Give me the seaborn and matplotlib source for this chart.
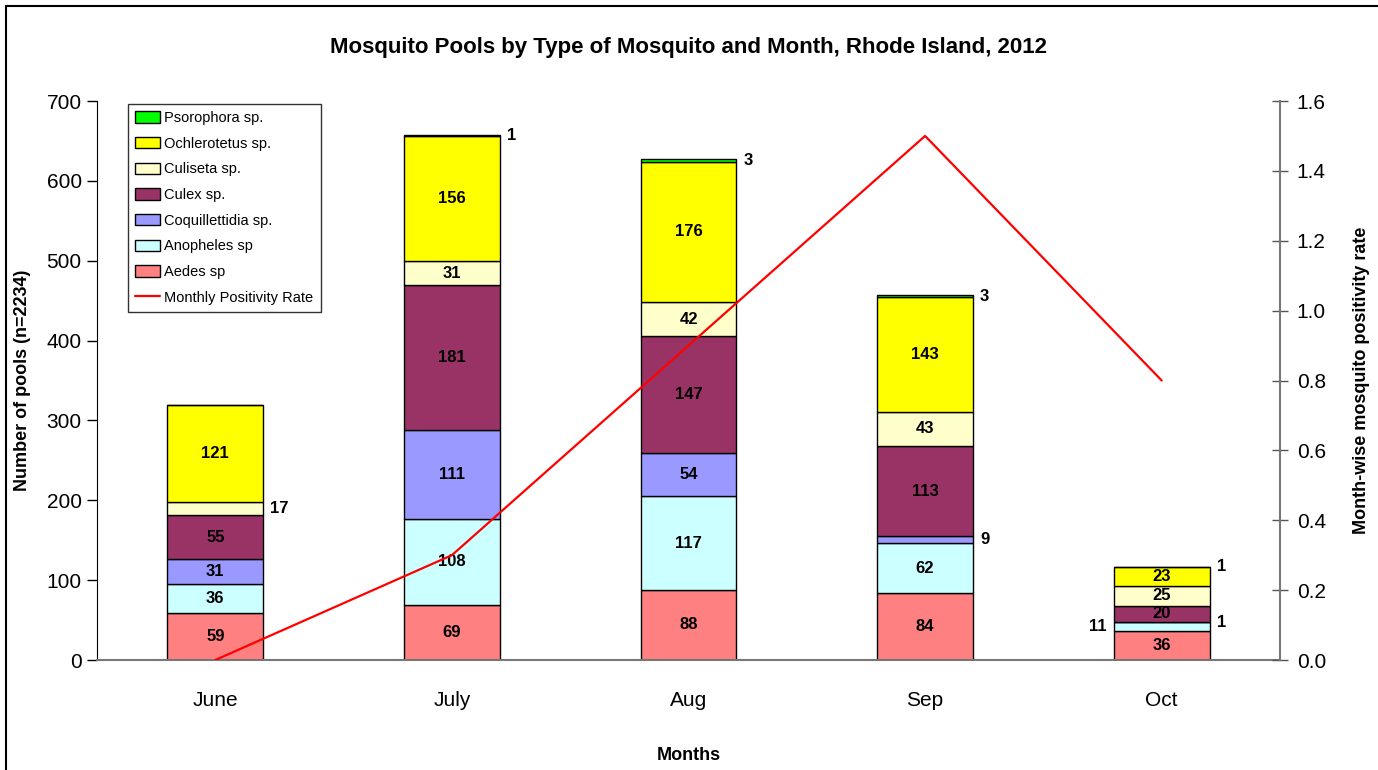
import matplotlib
matplotlib.use("Agg")
import matplotlib.pyplot as plt
import numpy as np
import pandas as pd
import seaborn as sns
from matplotlib.patches import Rectangle, Patch
from matplotlib.lines import Line2D

# dati
months = ["June", "July", "Aug", "Sep", "Oct"]
species = ["Aedes sp", "Anopheles sp", "Coquillettidia sp.", "Culex sp.",
           "Culiseta sp.", "Ochlerotetus sp.", "Psorophora sp."]
aedes = [59, 69, 88, 84, 36]
anopheles = [36, 108, 117, 62, 11]
coquillettidia = [31, 111, 54, 9, 1]
culex = [55, 181, 147, 113, 20]
culiseta = [17, 31, 42, 43, 25]
ochlerotetus = [121, 156, 176, 143, 23]
psorophora = [0, 1, 3, 3, 1]
positivity = [0.0, 0.3, 0.9, 1.5, 0.8]

colors = ["#FF8080", "#CCFFFF", "#9999FF", "#993366", "#FFFFCC", "#FFFF00", "#00FF00"]
palette = dict(zip(species, colors))

series = [aedes, anopheles, coquillettidia, culex, culiseta, ochlerotetus, psorophora]
rows = []
for sp, vals in zip(species, series):
    for i, v in enumerate(vals):
        rows.append({"month": i, "species": sp, "pools": v})
df = pd.DataFrame(rows)

sns.set_style("white")
plt.rcParams["font.family"] = ["Liberation Sans Narrow", "Liberation Sans", "DejaVu Sans"]
for k in ["text.color", "axes.labelcolor", "xtick.color", "ytick.color"]:
    plt.rcParams[k] = "black"

fig = plt.figure(figsize=(13.78, 7.70), dpi=100)
ax = fig.add_axes([97 / 1378, 110 / 770, (1280 - 97) / 1378, (660 - 101) / 770])

# seaborn impila dall'ultimo colore, quindi ordine invertito
sns.histplot(data=df, x="month", weights="pools", hue="species", hue_order=species[::-1],
             palette=palette, multiple="stack", discrete=True, shrink=0.405,
             edgecolor="black", linewidth=1, alpha=1, legend=False, ax=ax)

ax.set_xlim(-0.5, 4.5)
ax.set_ylim(0, 700)
ax.set_yticks(range(0, 701, 100))
ax.set_xticks(range(5))
ax.set_xticklabels(months)
ax.set_xticks(np.arange(-0.5, 5, 1), minor=True)
ax.tick_params(axis="x", which="major", length=0, pad=22, labelsize=15)
ax.tick_params(axis="x", which="minor", length=8, direction="out", color="#555555", width=1)
ax.tick_params(axis="y", length=7, direction="out", width=1, labelsize=15, pad=4, left=True)
for s in ["top", "right"]:
    ax.spines[s].set_visible(False)
ax.spines["left"].set_color("black")
ax.spines["bottom"].set_color("#777777")
ax.spines["bottom"].set_linewidth(1.5)
ax.set_ylabel("Number of pools (n=2234)", fontsize=13, fontweight="bold")
ax.set_xlabel("Months", fontsize=13, fontweight="bold")
ax.yaxis.set_label_coords(-0.056, 0.5)
ax.xaxis.set_label_coords(0.5, -0.155)

# etichette dei segmenti
half = 0.405 / 2
outside = {(0, 4): "r", (1, 6): "r", (2, 6): "r", (3, 6): "r", (3, 2): "r",
           (4, 6): "r", (4, 2): "r", (4, 1): "l"}
for m in range(5):
    base = 0
    for k, vals in enumerate(series):
        v = vals[m]
        if v == 0:
            continue
        yc = base + v / 2
        side = outside.get((m, k))
        if side == "r":
            ax.text(m + half + 0.03, yc, str(v), ha="left", va="center",
                    fontsize=12, fontweight="bold")
        elif side == "l":
            ax.text(m - half - 0.03, yc, str(v), ha="right", va="center",
                    fontsize=12, fontweight="bold")
        else:
            ax.text(m, yc, str(v), ha="center", va="center",
                    fontsize=12, fontweight="bold")
        base += v

ax2 = ax.twinx()
sns.lineplot(x=list(range(5)), y=positivity, color="red", linewidth=1.6, ax=ax2)
ax2.set_ylim(0, 1.6)
ax2.set_yticks(np.arange(0, 1.61, 0.2))
ax2.set_yticklabels([f"{t:.1f}" for t in np.arange(0, 1.61, 0.2)])
ax2.tick_params(axis="y", direction="inout", length=12, width=1, labelsize=15, pad=6,
                color="#555555")
for s in ["top", "left", "bottom"]:
    ax2.spines[s].set_visible(False)
ax2.spines["right"].set_color("#777777")
ax2.spines["right"].set_linewidth(1.5)
ax2.set_ylabel("Month-wise mosquito positivity rate", fontsize=13, fontweight="bold")
ax2.yaxis.set_label_coords(1.062, 0.5)

handles = [Patch(facecolor=c, edgecolor="black", label=s)
           for s, c in zip(species[::-1], colors[::-1])]
handles.append(Line2D([0], [0], color="red", lw=1.6, label="Monthly Positivity Rate"))
leg = ax2.legend(handles=handles, loc="upper left", bbox_to_anchor=(0.026, 0.995),
                 fontsize=10.5, frameon=True, fancybox=False, edgecolor="black",
                 handlelength=1.7, handleheight=0.8, labelspacing=0.8,
                 borderpad=0.5, handletextpad=0.3, borderaxespad=0)
leg.get_frame().set_linewidth(1)

fig.text(688 / 1378, 1 - 47 / 770, "Mosquito Pools by Type of Mosquito and Month, Rhode Island, 2012",
         ha="center", va="center", fontsize=16, fontweight="bold")

fig.patches.append(Rectangle((6 / 1378, -0.1), 1.2, 1.1 - 6 / 770, transform=fig.transFigure,
                             fill=False, edgecolor="black", linewidth=1.5))

fig.savefig("out.png", dpi=100)
